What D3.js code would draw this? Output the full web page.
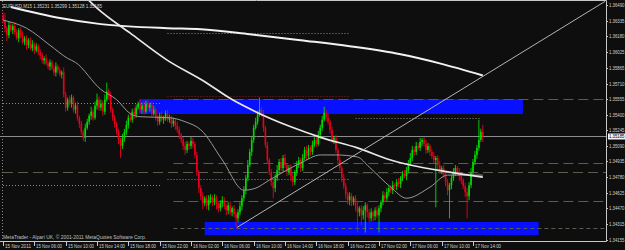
<!DOCTYPE html>
<html>
<head>
<meta charset="utf-8">
<script src="https://cdn.jsdelivr.net/npm/d3@7"></script>
<style>
  body { margin: 0; background: #0e0e0e; overflow: hidden; }
  svg text { font-family: "Liberation Sans", Arial, sans-serif; font-size: 4.7px; fill: #d2d2d2; }
</style>
</head>
<body>
<script>
// EURUSD M15, 15-17 Nov 2011
const title = 'EURUSD,M15'
const lastQuote = ['1.35231', '1.35299', '1.35128', '1.35185']
const bid = 1.35185
const firstOpen = 1.3639
const pip = 0.0001

const closes = [
  1.3634,1.3626,1.3619,1.3629,1.3624,1.3628,1.3622,1.3616,1.3624,1.3619,
  1.3612,1.3616,1.3609,1.3614,1.3606,1.3610,1.3604,1.3608,1.3602,1.3599,
  1.3594,1.3596,1.3591,1.3588,1.3592,1.3586,1.3582,1.3588,1.3584,1.3580,
  1.3582,1.3560,1.3547,1.3555,1.3551,1.3557,1.3545,1.3549,1.3537,1.3531,
  1.3523,1.3517,1.3527,1.3533,1.3539,1.3543,1.3537,1.3549,1.3555,1.3547,
  1.3551,1.3543,1.3555,1.3563,1.3559,1.3545,1.3537,1.3531,1.3523,1.3515,
  1.3509,1.3517,1.3523,1.3530,1.3537,1.3535,1.3543,1.3540,1.3547,1.3551,
  1.3545,1.3549,1.3543,1.3551,1.3547,1.3550,1.3541,1.3545,1.3537,1.3533,
  1.3539,1.3535,1.3537,1.3541,1.3535,1.3537,1.3531,1.3534,1.3529,1.3525,
  1.3520,1.3515,1.3509,1.3505,1.3511,1.3509,1.3514,1.3511,1.3500,1.3483,
  1.3467,1.3459,1.3452,1.3457,1.3450,1.3455,1.3458,1.3453,1.3457,1.3451,
  1.3447,1.3452,1.3455,1.3449,1.3445,1.3450,1.3443,1.3447,1.3441,1.3437,
  1.3443,1.3449,1.3457,1.3465,1.3477,1.3490,1.3503,1.3515,1.3527,1.3533,
  1.3540,1.3545,1.3541,1.3527,1.3510,1.3495,1.3483,1.3473,1.3467,1.3477,
  1.3485,1.3493,1.3487,1.3497,1.3490,1.3483,1.3487,1.3479,1.3473,1.3483,
  1.3490,1.3495,1.3487,1.3497,1.3505,1.3499,1.3507,1.3503,1.3510,1.3515,
  1.3511,1.3520,1.3527,1.3535,1.3542,1.3537,1.3533,1.3525,1.3515,1.3517,
  1.3505,1.3495,1.3487,1.3477,1.3469,1.3461,1.3455,1.3459,1.3453,1.3457,
  1.3449,1.3443,1.3447,1.3440,1.3445,1.3450,1.3443,1.3437,1.3443,1.3439,
  1.3445,1.3440,1.3447,1.3453,1.3460,1.3457,1.3463,1.3467,1.3465,1.3470,
  1.3469,1.3473,1.3471,1.3477,1.3481,1.3479,1.3485,1.3491,1.3497,1.3505,
  1.3503,1.3509,1.3507,1.3513,1.3515,1.3511,1.3505,1.3509,1.3503,1.3499,
  1.3495,1.3497,1.3490,1.3485,1.3487,1.3480,1.3473,1.3465,1.3470,1.3477,
  1.3483,1.3487,1.3483,1.3479,1.3475,1.3469,1.3463,1.3459,1.3470,1.3483,
  1.3493,1.3500,1.3507,1.3515,1.35231,1.35185
]
// wick lengths in pips above / below the body
const wickUp = [
  3,7,2,4,3,2,4,3,2,3, 4,2,3,2,3,4,2,3,2,3, 3,2,4,2,3,2,3,4,2,3, 2,5,3,2,4,3,2,3,4,2,
  3,2,4,3,2,5,3,4,6,3, 4,3,5,9,3,4,2,3,2,3, 2,4,3,4,3,5,3,4,3,2, 4,3,5,3,4,2,3,4,2,3,
  3,4,2,3,4,3,2,3,2,4, 3,2,3,4,3,2,4,3,2,3, 2,3,4,2,3,5,3,2,4,3, 2,3,4,3,2,3,4,2,3,2,
  3,4,3,4,3,5,3,4,3,4, 4,12,3,4,2,3,2,3,2,4, 5,3,4,3,4,2,3,4,3,2, 4,3,2,4,3,4,3,2,4,3,
  3,4,3,4,6,3,4,2,3,2, 3,2,3,2,4,3,2,4,3,2, 3,4,2,3,4,3,2,3,4,2, 3,4,3,2,4,3,4,2,3,4,
  2,3,4,2,3,4,3,4,5,4, 3,4,3,4,2,3,4,3,2,3, 4,2,3,4,2,3,4,3,2,3, 4,3,2,4,3,2,3,4,3,4,
  3,4,3,20,3,6.8
]
const wickDown = [
  3,4,6,3,2,4,3,2,4,3, 2,3,4,3,2,3,4,2,3,4, 3,4,2,3,4,2,3,4,3,2, 4,3,4,3,2,4,3,4,3,4,
  3,3,4,2,3,4,3,2,4,3, 3,4,3,2,4,3,3,4,3,4, 12,3,4,3,4,2,3,4,3,2, 3,4,3,2,3,4,3,2,3,4,
  3,2,4,3,2,3,4,3,4,3, 4,3,4,5,3,4,3,4,3,4, 5,4,6,3,4,5,3,4,3,5, 4,3,4,3,5,4,3,4,3,9,
  4,3,4,3,4,3,2,4,3,2, 3,2,3,4,3,4,3,4,10,4, 3,4,3,4,3,4,3,5,4,3, 4,3,4,3,2,4,3,4,3,2,
  3,2,4,3,2,4,3,4,3,4, 3,4,3,4,3,5,4,5,4,3, 5,20,4,10,4,22,5,4,3,5, 4,3,17,4,3,4,3,4,3,4,
  3,4,3,4,3,2,4,3,2,3, 4,3,2,3,4,3,4,3,4,3, 4,47,4,3,4,3,4,5,28,4, 3,4,3,5,4,3,5,22,4,3,
  4,3,4,3,2,5.7
]

// moving averages, [bar, price]
const maSlow = [[4,1.3647],[29,1.3636],[50,1.3630],[84,1.3626],[101,1.3625],[126,1.3620],[152,1.3614],[177,1.3608],[203,1.3600],[223,1.3591],[245,1.3579]]
const maMid = [[42,1.3657],[48,1.3646],[65,1.3621],[84,1.3594],[102,1.3574],[117,1.3555],[130,1.3542],[147,1.3528],[163,1.3517],[181,1.3507],[198,1.3495],[208,1.3490],[228,1.3483],[245,1.3478]]
const maFast = [[0,1.3634],[12,1.3626],[24,1.3609],[33,1.3596],[37,1.3592],[50,1.3565],[58,1.3555],[65,1.3541],[70,1.3538],[85,1.3537],[93,1.3533],[101,1.3525],[112,1.3495],[123,1.3465],[129,1.3467],[136,1.3475],[152,1.3492],[162,1.3500],[170,1.3500],[181,1.3498],[187,1.3488],[198,1.3468],[206,1.3457],[218,1.3468],[227,1.3480],[245,1.3480]]

// trend line anchors [bar, price], drawn as a ray
const trend = [[119.5, 1.3428], [245, 1.3578]]

// supply / demand zones [barFrom, barTo, priceLow, priceHigh]
const zones = [[69.5, 265.5, 1.35407, 1.35556], [103, 273.5, 1.34205, 1.34334]]

// horizontal levels [price, barFrom, barTo, kind]
const levels = [
  [1.34831, 0, 308, 'dash'],
  [1.35560, 87, 308, 'dash'],
  [1.34920, 87, 308, 'dash'],
  [1.34543, 87, 308, 'dash'],
  [1.34274, 87, 308, 'short'],
  [1.35516, 0, 81, 'dot'],
  [1.34701, 0, 81, 'dot'],
  [1.36212, 84, 177, 'dot'],
  [1.35586, 84, 177, 'red'],
  [1.34761, 84, 177, 'dot'],
  [1.35367, 180, 244, 'dot'],
  [1.34821, 180, 244, 'red']
]

const priceTicks = ['1.36490','1.36335','1.36180','1.36025','1.35865','1.35710','1.35555','1.35400','1.35245','1.35090','1.34935','1.34780','1.34625','1.34470','1.34315','1.34155']
const timeTicks = ['15 Nov 2011','15 Nov 06:00','15 Nov 10:00','15 Nov 14:00','15 Nov 18:00','15 Nov 22:00','16 Nov 02:00','16 Nov 06:00','16 Nov 10:00','16 Nov 14:00','16 Nov 18:00','16 Nov 22:00','17 Nov 02:00','17 Nov 06:00','17 Nov 10:00','17 Nov 14:00']
const barsPerTick = 16
const copyright = 'MetaTrader - Alpari UK, \u00a9 2001-2011 MetaQuotes Software Corp.'

const W = 625, H = 250
const right = 606, bottom = 241

const x = d3.scaleLinear().domain([0, 307.4]).range([3, 605])
const y = d3.scaleLinear().domain([1.34155, 1.36490]).range([240, 5])

const svg = d3.select('body').append('svg')
  .attr('width', W).attr('height', H)

svg.append('rect').attr('width', W).attr('height', H).attr('fill', '#0e0e0e')

svg.append('clipPath').attr('id', 'plot')
  .append('rect').attr('x', 0).attr('y', 1).attr('width', right).attr('height', bottom - 1)

const g = svg.append('g').attr('clip-path', 'url(#plot)')

// zones
g.selectAll('.zone').data(zones).enter().append('rect')
  .attr('x', d => x(d[0])).attr('width', d => x(d[1]) - x(d[0]))
  .attr('y', d => y(d[3])).attr('height', d => y(d[2]) - y(d[3]))
  .attr('fill', '#0710ff')

// levels
const levelStyle = {
  dash: { stroke: '#5f5a50', dash: '10,5' },
  short: { stroke: '#5f5a50', dash: '4,3' },
  dot: { stroke: '#8a8a8a', dash: '1,2' },
  red: { stroke: '#8c1a22', dash: '1,2' }
}
g.selectAll('.level').data(levels).enter().append('line')
  .attr('x1', d => x(d[1])).attr('x2', d => x(d[2]))
  .attr('y1', d => Math.round(y(d[0])) + 0.5).attr('y2', d => Math.round(y(d[0])) + 0.5)
  .attr('stroke', d => levelStyle[d[3]].stroke)
  .attr('stroke-dasharray', d => levelStyle[d[3]].dash)
  .attr('stroke-width', 1)

// period separator at the left edge
g.append('line').attr('x1', 2.5).attr('x2', 2.5).attr('y1', 1).attr('y2', bottom)
  .attr('stroke', '#8a8a8a').attr('stroke-dasharray', '1,2')

// bid line
g.append('line').attr('x1', 0).attr('x2', right)
  .attr('y1', Math.round(y(bid)) + 0.5).attr('y2', Math.round(y(bid)) + 0.5)
  .attr('stroke', '#8c8c8c')

// candles
const bars = closes.map((c, i) => {
  const o = i === 0 ? firstOpen : closes[i - 1]
  return { i, o, c, h: Math.max(o, c) + wickUp[i] * pip, l: Math.min(o, c) - wickDown[i] * pip }
})
const col = d => d.c >= d.o ? '#00dc00' : '#e8001c'
const candle = g.selectAll('.bar').data(bars).enter().append('g')
candle.append('line')
  .attr('x1', d => x(d.i)).attr('x2', d => x(d.i))
  .attr('y1', d => y(d.h)).attr('y2', d => y(d.l))
  .attr('stroke', col).attr('stroke-width', 0.9)
candle.append('rect')
  .attr('x', d => x(d.i) - 0.8).attr('width', 1.6)
  .attr('y', d => y(Math.max(d.o, d.c)))
  .attr('height', d => Math.max(0.8, Math.abs(y(d.o) - y(d.c))))
  .attr('fill', col)

// moving averages
const line = d3.line().x(d => x(d[0])).y(d => y(d[1])).curve(d3.curveMonotoneX)
g.append('path').attr('d', line(maFast)).attr('fill', 'none').attr('stroke', '#9a9a9a').attr('stroke-width', 1)
g.append('path').attr('d', line(maMid)).attr('fill', 'none').attr('stroke', '#e8e8e8').attr('stroke-width', 1.7)
g.append('path').attr('d', line(maSlow)).attr('fill', 'none').attr('stroke', '#f2f2f2').attr('stroke-width', 2)

// trend ray
const slope = (trend[1][1] - trend[0][1]) / (trend[1][0] - trend[0][0])
const rayEnd = x.domain()[1]
g.append('line')
  .attr('x1', x(trend[0][0])).attr('y1', y(trend[0][1]))
  .attr('x2', x(rayEnd)).attr('y2', y(trend[0][1] + slope * (rayEnd - trend[0][0])))
  .attr('stroke', '#b4b4b4').attr('stroke-width', 1)

// frame
svg.append('path')
  .attr('d', `M0,0.5H${right + 0.5}V${bottom + 0.5}H0`)
  .attr('fill', 'none').attr('stroke', '#c8c8c8').attr('stroke-width', 1)

// price axis (squeezed so the labels fit the 625px window)
const pa = svg.append('g')
priceTicks.forEach(t => {
  const yy = Math.round(y(+t)) + 0.5
  pa.append('line').attr('x1', right).attr('x2', right + 2).attr('y1', yy).attr('y2', yy).attr('stroke', '#c8c8c8')
  pa.append('text').attr('x', right + 3).attr('y', yy + 1.8)
    .attr('textLength', 15.5).attr('lengthAdjust', 'spacingAndGlyphs').text(t)
})
const by = Math.round(y(bid)) + 0.5
pa.append('rect').attr('x', right + 2).attr('y', by - 3).attr('width', 17).attr('height', 6).attr('fill', '#f4f4f4')
pa.append('text').attr('x', right + 3).attr('y', by + 1.8).style('fill', '#000')
  .attr('textLength', 15.5).attr('lengthAdjust', 'spacingAndGlyphs').text(d3.format('.5f')(bid))

// time axis
const ta = svg.append('g')
timeTicks.forEach((t, k) => {
  const xx = Math.round(x(k * barsPerTick)) + 0.5
  ta.append('line').attr('x1', xx).attr('x2', xx).attr('y1', bottom).attr('y2', bottom + 5).attr('stroke', '#c8c8c8')
  ta.append('text').attr('x', xx + 1.5).attr('y', 247.5)
    .attr('textLength', 26).attr('lengthAdjust', 'spacingAndGlyphs').text(t)
})

// labels
svg.append('text').attr('x', 3).attr('y', 8)
  .attr('textLength', 99).attr('lengthAdjust', 'spacingAndGlyphs')
  .text(title + '  ' + lastQuote.join(' '))
svg.append('text').attr('x', 3).attr('y', 238.5).style('fill', '#c0c0c0')
  .attr('textLength', 143).attr('lengthAdjust', 'spacingAndGlyphs').text(copyright)
</script>
</body>
</html>
